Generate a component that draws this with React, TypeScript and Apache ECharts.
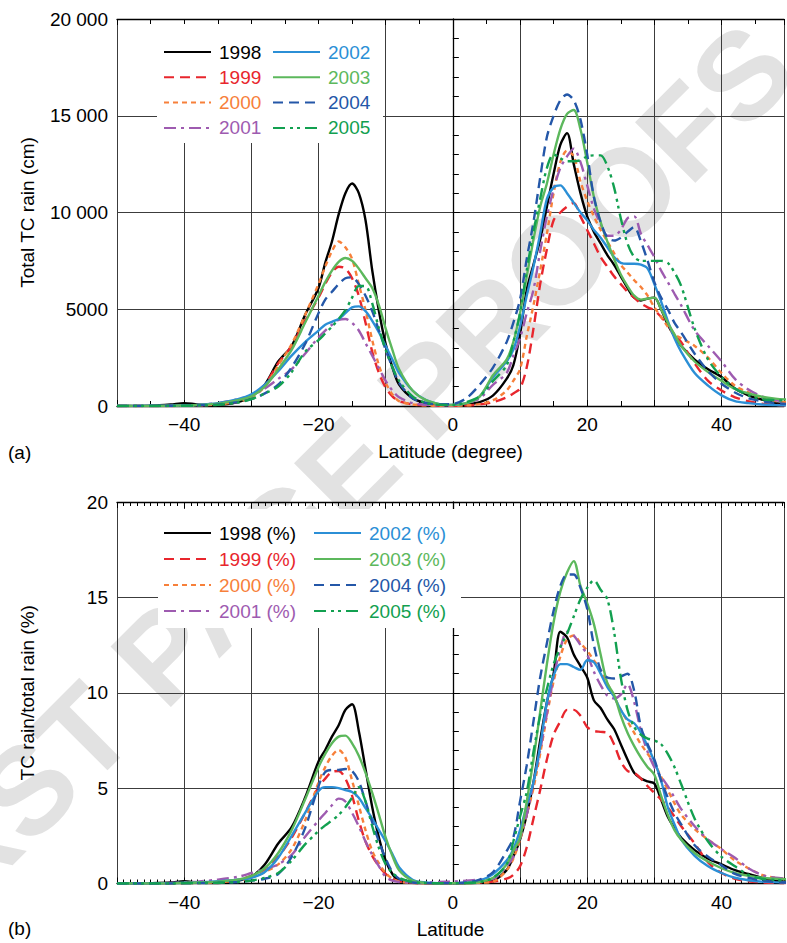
import React, { useEffect, useRef } from "react";
import * as echarts from "echarts";

// Latitude grid (degrees)
const LAT = [
  -50, -45, -42, -40, -38, -35, -32, -30, -28, -26, -24, -22,
  -20, -19, -18, -17, -16, -15, -14, -13, -12, -11, -10, -9, -8, -6, -4, -2,
  0, 2, 4, 6, 8,
  9, 10, 11, 12, 13, 14, 15, 16, 17, 18, 19, 20, 21, 22, 23, 24, 25, 26, 27, 28, 29, 30, 31, 32, 33, 34,
  36, 38, 40, 42, 44, 46, 48, 50,
];

const YEARS = ["1998", "1999", "2000", "2001", "2002", "2003", "2004", "2005"];

// Panel (a): total TC rain (cm)
const RAIN_1998 = [
  0, 20, 80, 150, 80, 60, 200, 480, 1100, 2300, 3100, 4700,
  6100, 7400, 8500, 9900, 11000, 11500, 11000, 9600, 7000, 4900, 3200, 2000, 1100, 400, 150, 60,
  30, 80, 200, 550, 1400,
  2100, 3700, 6000, 7300, 8600, 10300, 12000, 13500, 14100, 12500, 11000, 9800, 9000, 8400, 7800, 7300, 6700, 6100, 5600, 5450, 5550, 5600, 5000, 4200, 3600, 3100,
  2400, 1900, 1500, 900, 550, 330, 150, 80,
];
const RAIN_1999 = [
  0, 0, 0, 20, 30, 80, 250, 500, 1100, 2200, 3100, 4400,
  5600, 6300, 6900, 7200, 7100, 6600, 5700, 4300, 2800, 1700, 950, 500, 250, 80, 30, 10,
  10, 30, 80, 200, 450,
  650, 900, 2000, 4000, 6300, 8100, 9600, 10000, 10300, 10500, 9800, 9100, 8400, 7700, 7200, 6700, 6300, 5900, 5600, 5300, 5100, 4950, 4600, 4200, 3700, 3300,
  2200, 1300, 800, 450, 250, 120, 60, 30,
];
const RAIN_2000 = [
  0, 0, 0, 20, 30, 80, 220, 450, 1000, 2100, 3200, 4700,
  6300, 7200, 8000, 8500, 8200, 7600, 6300, 4950, 3400, 2100, 1200, 600, 250, 80, 30, 10,
  10, 30, 100, 300, 800,
  1300, 1900, 3600, 5200, 7000, 8900, 11000, 12600, 13200, 12900, 11600, 10600, 9800, 9100, 8500, 7900, 7300, 6900, 6500, 6150, 5700, 5100, 4600, 4100, 3700, 3500,
  3100, 2500, 1700, 1050, 700, 400, 250, 180,
];
const RAIN_2001 = [
  0, 0, 10, 30, 60, 150, 350, 550, 900, 1400, 1900, 2700,
  3550, 3900, 4200, 4450, 4500, 4300, 3900, 3250, 2600, 1950, 1300, 800, 450, 150, 60, 40,
  50, 150, 400, 1100, 1700,
  2600, 3500, 4800, 6000, 8000, 9800, 11200, 12300, 12900, 13300, 12600, 11400, 10200, 9400, 8800, 8800, 9100, 9700, 9800, 8900, 8300, 7700, 7000, 6400, 5800, 5200,
  3900, 3100, 2300, 1400, 850, 500, 300, 200,
];
const RAIN_2002 = [
  0, 10, 20, 40, 60, 150, 350, 600, 1100, 1800, 2600, 3300,
  3900, 4200, 4350, 4500, 4800, 5100, 5150, 4900, 4400, 3800, 3100, 2400, 1700, 800, 300, 100,
  60, 150, 500, 1500, 2300,
  2900, 4100, 5700, 7200, 8900, 10700, 11300, 11400, 11000, 10500, 10000, 9600, 9100, 8700, 8200, 7700, 7400, 7350, 7350, 7300, 7100, 6300, 5400, 4400, 3500, 2800,
  1700, 1050, 550, 250, 150, 80, 50, 30,
];
const RAIN_2003 = [
  0, 0, 10, 30, 50, 120, 300, 500, 1000, 1900, 2900, 4300,
  5700, 6400, 7000, 7450, 7650, 7500, 7100, 6600, 6100, 5200, 4000, 2900, 1900, 800, 300, 100,
  60, 150, 500, 1600, 2400,
  3300, 4800, 6700, 8600, 10300, 11500, 13000, 14300, 15100, 15300, 14300, 12600, 10800, 9500, 8500, 7600, 6800, 6200, 5700, 5500, 5550, 5600, 5000, 4300, 3700, 3100,
  2300, 1750, 1300, 880, 650, 480, 380, 330,
];
const RAIN_2004 = [
  0, 0, 10, 20, 30, 80, 200, 350, 650, 1100, 2000, 3200,
  4800, 5500, 5900, 6300, 6600, 6650, 6300, 5700, 4900, 3900, 2900, 2000, 1200, 400, 150, 80,
  100, 400, 1100, 2000, 3300,
  4300, 5500, 7600, 9500, 11800, 13900, 15000, 15800, 16100, 15800, 14800, 13000, 10800, 9500, 8700, 8550, 8700, 9000, 9250, 8500, 7500, 6400, 5600, 5000, 4300, 3800,
  2700, 1800, 1150, 700, 400, 250, 150, 100,
];
const RAIN_2005 = [
  0, 0, 5, 10, 20, 60, 180, 350, 650, 1000, 1750, 2800,
  3400, 3750, 4100, 4500, 4950, 5600, 6200, 6200, 5300, 4000, 2900, 2000, 1300, 500, 150, 60,
  50, 200, 500, 1300, 2100,
  3300, 4800, 7000, 9000, 10700, 12300, 13000, 12800, 12650, 12650, 12700, 12900, 12950, 12950, 12400, 11300, 9700, 8400, 7700, 7500, 7500, 7500, 7500, 7400, 6900, 6200,
  4000, 2400, 1500, 900, 550, 350, 300, 280,
];

// Panel (b): TC rain / total rain (%)
const PCT_1998 = [
  0, 0.02, 0.05, 0.12, 0.05, 0.03, 0.15, 0.35, 1.0, 2.1, 2.95, 4.5,
  6.4, 7.0, 7.7, 8.3, 9.1, 9.4, 8.0, 6.0, 4.0, 2.4, 1.2, 0.5, 0.15, 0.05, 0.02, 0.01,
  0.01, 0.02, 0.05, 0.15, 0.7,
  1.4, 2.3, 3.6, 5.3, 7.5, 9.5, 11.0, 13.2, 12.9, 12.0, 11.4, 10.8, 9.6, 9.2, 8.6, 8.1, 7.3, 6.5, 5.8, 5.5, 5.35, 5.24, 4.4, 3.5, 2.9, 2.4,
  1.75, 1.3, 1.0, 0.7, 0.5, 0.3, 0.15, 0.1,
];
const PCT_1999 = [
  0, 0, 0, 0.02, 0.03, 0.08, 0.2, 0.4, 0.75, 1.4, 2.4, 3.7,
  5.05, 5.5, 5.85, 5.9, 5.5, 4.6, 3.3, 2.2, 1.45, 0.9, 0.5, 0.25, 0.12, 0.03, 0.01, 0.01,
  0.01, 0.02, 0.05, 0.1, 0.25,
  0.45, 0.9, 1.9, 3.4, 4.9, 6.5, 7.8, 8.5, 9.1, 9.1, 8.8, 8.2, 8.0, 7.95, 7.9, 7.3, 6.4, 5.9, 5.8, 5.5, 5.1, 4.75, 4.4, 4.0, 3.5, 3.0,
  2.1, 1.1, 0.55, 0.25, 0.12, 0.06, 0.03, 0.02,
];
const PCT_2000 = [
  0, 0, 0, 0.02, 0.03, 0.06, 0.15, 0.3, 0.6, 1.0, 1.8, 3.3,
  5.3, 6.1, 6.7, 7.0, 6.6, 5.4, 4.1, 2.8, 1.7, 1.05, 0.55, 0.25, 0.1, 0.03, 0.01, 0.01,
  0.01, 0.02, 0.04, 0.1, 0.7,
  1.3, 2.3, 3.6, 5.0, 6.8, 8.8, 10.6, 11.9, 12.8, 13.0, 12.6, 12.2, 11.7, 11.2, 10.5, 9.8, 9.1, 8.5, 7.9, 7.3, 6.8, 6.3, 5.6, 4.9, 4.2, 3.6,
  2.85, 2.3, 1.8, 1.2, 0.8, 0.45, 0.3, 0.2,
];
const PCT_2001 = [
  0, 0.01, 0.03, 0.05, 0.1, 0.2, 0.35, 0.55, 0.75, 1.0, 1.5, 2.45,
  3.3, 3.7, 4.1, 4.45, 4.3, 3.7, 3.0, 2.2, 1.5, 0.9, 0.35, 0.15, 0.08, 0.05, 0.05, 0.08,
  0.1, 0.15, 0.2, 0.25, 0.9,
  1.4, 2.4, 3.6, 5.3, 7.0, 8.9, 10.8, 12.3, 13.2, 13.0, 12.5, 12.0, 11.1, 10.4, 9.85, 9.7, 9.9, 10.45, 9.5, 8.0, 6.9, 6.1, 5.6, 5.1, 4.5, 3.9,
  3.0, 2.3, 1.8, 1.35, 0.8, 0.45, 0.3, 0.25,
];
const PCT_2002 = [
  0, 0, 0.02, 0.04, 0.06, 0.12, 0.2, 0.3, 0.6, 1.35, 2.5, 3.7,
  4.85, 5.05, 5.05, 5.0, 4.9, 4.8, 4.5, 3.95, 3.4, 2.8, 2.2, 1.55, 0.85, 0.2, 0.05, 0.02,
  0.02, 0.04, 0.15, 0.5, 1.2,
  1.8, 2.8, 4.1, 5.3, 7.2, 9.5, 10.9, 11.5, 11.5, 11.35, 11.2, 11.7, 11.6, 11.0, 10.3, 9.8, 9.1, 8.6, 8.4, 7.9, 7.2, 6.4, 5.4, 4.0, 3.1, 2.3,
  1.45, 0.9, 0.55, 0.3, 0.17, 0.1, 0.07, 0.05,
];
const PCT_2003 = [
  0, 0, 0.01, 0.03, 0.05, 0.1, 0.2, 0.4, 0.8, 1.6, 2.8, 4.4,
  6.1, 6.8, 7.35, 7.7, 7.75, 7.35, 6.7, 5.8, 4.75, 3.6, 2.4, 1.45, 0.7, 0.15, 0.03, 0.01,
  0.01, 0.02, 0.08, 0.3, 1.0,
  1.7, 2.4, 4.3, 6.5, 9.0, 11.5, 13.7, 15.3, 16.3, 16.9, 15.6, 14.7, 13.6, 12.0, 10.5, 9.9, 8.8, 7.9, 7.2, 6.6, 6.1, 5.7, 4.6, 3.6, 2.8, 2.3,
  1.6, 1.15, 0.8, 0.55, 0.4, 0.3, 0.25, 0.22,
];
const PCT_2004 = [
  0, 0, 0, 0.01, 0.02, 0.04, 0.08, 0.15, 0.25, 0.5, 1.4, 2.9,
  5.1, 5.85, 5.95, 5.95, 6.0, 5.9, 5.35, 4.3, 3.2, 2.2, 1.3, 0.6, 0.25, 0.05, 0.02, 0.02,
  0.02, 0.05, 0.2, 0.6, 1.7,
  2.4, 4.3, 6.2, 8.5, 10.8, 12.6, 14.3, 15.6, 16.2, 16.2, 15.5, 14.4, 12.5, 11.2, 10.8, 10.75, 10.85, 11.0, 10.1, 8.2, 7.3, 6.5, 5.4, 4.5, 3.7, 3.1,
  2.0, 1.4, 0.95, 0.5, 0.3, 0.15, 0.08, 0.05,
];
const PCT_2005 = [
  0, 0, 0, 0.01, 0.02, 0.04, 0.08, 0.15, 0.3, 0.55, 1.2, 2.05,
  2.75, 3.05, 3.3, 3.6, 4.0, 4.5, 5.05, 4.3, 3.0, 1.85, 1.0, 0.55, 0.3, 0.08, 0.02, 0.01,
  0.01, 0.02, 0.08, 0.3, 1.0,
  2.2, 3.5, 4.8, 6.9, 8.8, 10.2, 11.5, 12.4, 13.1, 14.0, 14.9, 15.5, 15.9, 15.4, 14.9, 13.2, 10.8, 9.1, 8.2, 7.8, 7.6, 7.5, 7.3, 6.8, 6.1, 5.2,
  3.4, 2.2, 1.4, 0.9, 0.45, 0.25, 0.18, 0.15,
];

const RAIN = [RAIN_1998, RAIN_1999, RAIN_2000, RAIN_2001, RAIN_2002, RAIN_2003, RAIN_2004, RAIN_2005];
const PCT = [PCT_1998, PCT_1999, PCT_2000, PCT_2001, PCT_2002, PCT_2003, PCT_2004, PCT_2005];

const COLORS = ["#000000", "#e8262d", "#f7803a", "#9e5bb0", "#2b8fd6", "#5cb85c", "#2457a8", "#12a050"];
const DASHES: any[] = [
  "solid",
  [10, 6],
  [5, 4],
  [12, 5, 3, 5],
  "solid",
  "solid",
  [10, 6],
  [12, 5, 3, 4, 3, 5],
];

const X_TICKS_MAJOR = 10;
const FONT = '"Liberation Sans", Arial, Helvetica, sans-serif';

function xLabel(v: number) {
  if (Math.abs(v % 20) > 1e-9) return "";
  return v < 0 ? "\u2212" + Math.abs(v) : String(v);
}
function rainLabel(v: number) {
  if (v >= 10000) return Math.round(v / 1000) + " 000";
  return String(v);
}

function xAxes(gridIndex: number, minorSplit: number, minorLen: number, name: string) {
  const common = {
    gridIndex,
    type: "value",
    min: -50,
    max: 49.3,
    interval: X_TICKS_MAJOR,
    axisLine: { show: true, onZero: false, lineStyle: { color: "#000", width: 1.3 } },
    axisTick: { show: true, inside: true, length: 6, lineStyle: { color: "#000", width: 1 } },
    minorTick: { show: true, splitNumber: minorSplit, length: minorLen, lineStyle: { color: "#000", width: 1 } },
  };
  return [
    {
      ...common,
      position: "bottom",
      splitLine: { show: true, lineStyle: { color: "#3c3c3c", width: 1 } },
      axisLabel: { formatter: xLabel, fontSize: 19, color: "#000", margin: 9, fontFamily: FONT },
      name,
      nameLocation: "middle",
      nameGap: 36,
      nameTextStyle: { fontSize: 19, color: "#000", fontFamily: FONT, verticalAlign: "top" },
    },
    {
      ...common,
      position: "top",
      splitLine: { show: false },
      axisLabel: { show: false },
    },
  ];
}

function yAxis(gridIndex: number, max: number, interval: number, minorSplit: number, formatter: any, name: string) {
  return {
    gridIndex,
    type: "value",
    min: 0,
    max,
    interval,
    axisLine: { show: true, lineStyle: { color: "#000", width: 1.3 } },
    axisTick: { show: true, inside: true, length: 7, lineStyle: { color: "#000" } },
    minorTick: { show: true, splitNumber: minorSplit, length: 6, lineStyle: { color: "#000" } },
    splitLine: { show: true, lineStyle: { color: "#3c3c3c", width: 1 } },
    axisLabel: { formatter, fontSize: 19, color: "#000", margin: 9, fontFamily: FONT },
    name,
    nameLocation: "middle",
    nameGap: 80,
    nameTextStyle: { fontSize: 19, color: "#000", fontFamily: FONT },
  };
}

function legend(names: string[], colorIdx: number[], left: number, top: number, itemGap: number, pad: number[]) {
  return {
    orient: "vertical",
    left,
    top,
    padding: pad,
    itemWidth: 47,
    itemHeight: 14,
    itemGap,
    selectedMode: false,
    itemStyle: { opacity: 0, borderWidth: 0 },
    textStyle: { fontSize: 19, fontFamily: FONT, lineHeight: 19, padding: [0, 0, 0, 3] },
    data: names.map((n, i) => ({ name: n, textStyle: { color: COLORS[colorIdx[i]] } })),
  };
}

export default function App() {
  const ref = useRef<HTMLDivElement>(null);
  useEffect(() => {
    if (!ref.current) return;
    const chart = echarts.init(ref.current, undefined, { renderer: "svg" });

    const series: any[] = [];
    YEARS.forEach((y, i) => {
      series.push({
        name: y,
        type: "line",
        xAxisIndex: 0,
        yAxisIndex: 0,
        symbol: "none",
        showSymbol: false,
        smooth: 0.3,
        data: LAT.map((lat, j) => [lat, RAIN[i][j]]),
        lineStyle: { color: COLORS[i], width: 2.4, type: DASHES[i] },
        itemStyle: { color: COLORS[i] },
        z: 3,
      });
    });
    YEARS.forEach((y, i) => {
      series.push({
        name: y + " (%)",
        type: "line",
        xAxisIndex: 2,
        yAxisIndex: 1,
        symbol: "none",
        showSymbol: false,
        smooth: 0.3,
        data: LAT.map((lat, j) => [lat, PCT[i][j]]),
        lineStyle: { color: COLORS[i], width: 2.4, type: DASHES[i] },
        itemStyle: { color: COLORS[i] },
        z: 3,
      });
    });

    const option: any = {
      animation: false,
      backgroundColor: "#fff",
      grid: [
        { left: 117, top: 19, width: 670, height: 387 },
        { left: 117, top: 502, width: 670, height: 381.5 },
      ],
      xAxis: [
        ...xAxes(0, 2, 5, "Latitude (degree)"),
        ...xAxes(1, 10, 4, "Latitude"),
      ],
      yAxis: [
        yAxis(0, 20000, 5000, 5, rainLabel, "Total TC rain (cm)"),
        yAxis(1, 20, 5, 5, (v: number) => String(v), "TC rain/total rain (%)"),
      ],
      legend: [
        legend(YEARS.slice(0, 4), [0, 1, 2, 3], 157, 25, 6.3, [17.5, 6, 5, 6]),
        legend(YEARS.slice(4), [4, 5, 6, 7], 266, 25, 6.3, [17.5, 6, 5, 6]),
        legend(YEARS.slice(0, 4).map((y) => y + " (%)"), [0, 1, 2, 3], 157, 510, 7, [13.5, 6, 7, 6]),
        legend(YEARS.slice(4).map((y) => y + " (%)"), [4, 5, 6, 7], 307, 510, 7, [13.5, 6, 7, 6]),
      ],
      graphic: [
        {
          type: "group",
          z: -10,
          silent: true,
          children: [
            {
              type: "text",
              z: -10,
              x: 314,
              y: 503,
              rotation: Math.PI / 4,
              style: {
                text: "FIRST PAGE PROOFS",
                font: 'bold 124px "Liberation Sans", Arial, sans-serif',
                fill: "#e2e2e2",
                align: "center",
                verticalAlign: "middle",
                textAlign: "center",
                textVerticalAlign: "middle",
              },
            },
          ],
        },
        { type: "rect", z: 1, shape: { x: 157, y: 24, width: 226, height: 119 }, style: { fill: "#fff" } },
        { type: "rect", z: 1, shape: { x: 158, y: 509, width: 303, height: 119 }, style: { fill: "#fff" } },
        { type: "text", x: 8, y: 443, style: { text: "(a)", font: '19px "Liberation Sans", Arial, sans-serif', fill: "#000" } },
        { type: "text", x: 8, y: 919, style: { text: "(b)", font: '19px "Liberation Sans", Arial, sans-serif', fill: "#000" } },
      ],
      series,
    };
    chart.setOption(option);
    return () => chart.dispose();
  }, []);

  return (
    <div
      ref={ref}
      style={{ position: "absolute", left: 0, top: 0, width: 787, height: 943, background: "#fff" }}
    />
  );
}
